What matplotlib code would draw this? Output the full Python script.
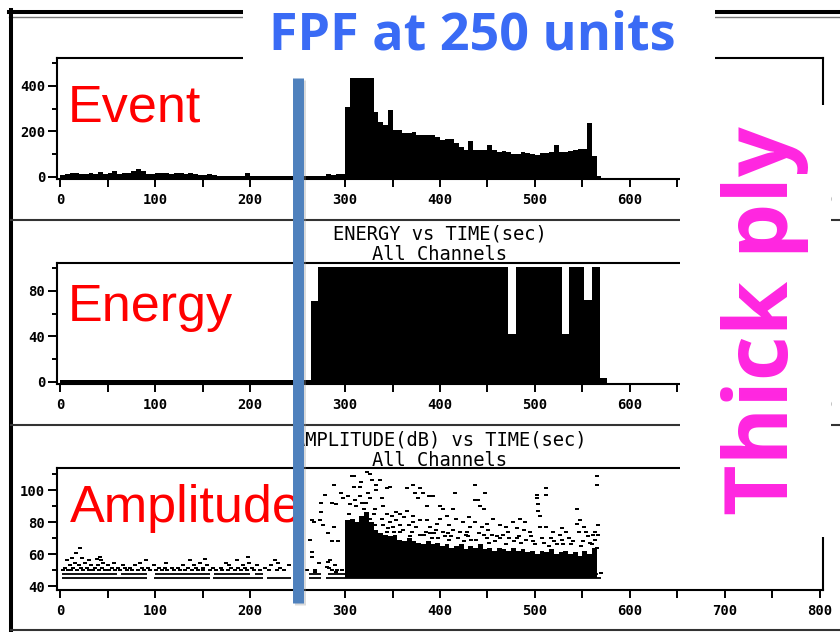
import matplotlib.pyplot as plt
from matplotlib.lines import Line2D
from matplotlib.patches import Rectangle
from matplotlib.ticker import MultipleLocator
import numpy as np

plt.rcParams['font.family'] = 'DejaVu Sans Mono'
plt.rcParams['font.weight'] = 'bold'

W, H = 840, 632

# ---- values ----
fpf_time = 250

# event counts, 5 s bins starting at 0 s
event_bin = 5
event_counts = [8, 15, 18, 18, 12, 15, 16, 12, 22, 15,
                17, 24, 15, 16, 18, 28, 35, 25, 14, 12,
                16, 18, 16, 12, 16, 17, 12, 16, 15, 8,
                8, 15, 8, 6, 6, 6, 6, 6, 6, 16,
                6, 5, 5, 5, 5, 5, 5, 5, 5, 5,
                5, 5, 5, 5, 5, 5, 14, 8, 12, 12,
                309, 560, 560, 560, 560, 560, 287, 243, 229, 295,
                207, 207, 192, 192, 198, 185, 185, 183, 183, 177,
                163, 168, 167, 150, 132, 119, 158, 119, 119, 119,
                141, 119, 110, 115, 108, 101, 103, 110, 106, 100,
                97, 105, 105, 108, 141, 110, 110, 112, 119, 123,
                123, 237, 92, 4]

# energy, 8 s bins starting at 0 s (top of scale is ~101)
energy_bin = 8
energy_values = [1.5, 1.5, 1.5, 1.5, 1.5, 1.5, 1.5, 1.5, 1.5, 1.5, 1.5,
                 1.5, 1.5, 1.5, 1.5, 1.5, 1.5, 1.5, 1.5, 1.5, 1.5, 1.5,
                 1.5, 1.5, 1.5, 1.5, 1.5, 1.5, 1.5, 1.5, 1.5, 1.5, 1.5,
                 71,
                 101, 101, 101, 101, 101, 101, 101, 101, 101, 101, 101, 101,
                 101, 101, 101, 101, 101, 101, 101, 101, 101, 101, 101, 101, 101,
                 42, 101, 101, 101, 101, 101, 101, 42, 101, 101, 72, 101, 3]

# amplitude: solid band of hits during the burst (5 s bins from 300 s)
band_start = 300
band_bin = 5
band_floor = 45
band_top = [81, 82, 80, 84, 86, 80, 75, 73, 72, 71,
            72, 69, 68, 70, 68, 67, 66, 68, 66, 67,
            65, 66, 64, 65, 66, 63, 65, 64, 66, 63,
            64, 62, 64, 63, 62, 64, 62, 63, 61, 62,
            60, 62, 61, 63, 60, 61, 62, 60, 61, 59,
            62, 60, 64]

# threshold-level hits drawn as near-continuous lines (dB, spans in s)
thr_db = [45, 47.5]
thr_spans = [[(2, 92), (99, 158), (161, 214), (218, 243), (262, 275), (280, 570)],
             [(2, 60), (64, 92), (100, 158), (162, 200), (205, 214), (262, 275),
              (282, 300), (303, 566)]]

# low level hits before the burst, grouped in rows of equal dB
pre_rows_db = [50, 51.5, 53, 54.5, 56]
pre_rows_t = [
    [3, 8, 12, 18, 24, 30, 35, 41, 47, 52, 58, 63, 70, 76, 82, 88, 95, 101, 107,
     113, 120, 126, 132, 139, 145, 151, 158, 164, 171, 177, 184, 190, 197, 204,
     211, 220, 228, 236, 268, 286, 292, 297],
    [5, 14, 22, 28, 37, 44, 55, 61, 68, 74, 86, 93, 104, 110, 118, 124, 135, 143,
     150, 161, 169, 180, 187, 195, 202, 216, 232, 250, 283],
    [10, 20, 33, 40, 50, 66, 79, 99, 129, 141, 155, 178, 193, 207, 222, 241, 289],
    [16, 26, 45, 57, 84, 112, 147, 175, 199, 229, 273],
    [7, 31, 43, 91, 137, 186, 226, 284],
]
pre_extra = [(13, 57.5), (23, 57.5), (39, 57), (42, 58), (153, 57), (198, 58),
             (265, 58), (17, 60.5), (21, 64)]

# scattered hits around and above the burst band
burst_hits = [
    (265, 81), (275, 92), (267, 80), (263, 69), (265, 61), (282, 55), (281, 52),
    (289, 53), (291, 49), (260, 50), (268, 49), (275, 86), (274, 81), (277, 78),
    (288, 77), (282, 73), (286, 68), (293, 68), (279, 97), (288, 103), (296, 98),
    (298, 95), (291, 91), (286, 92), (305, 91),
    (307, 109), (309, 109), (326, 110), (328, 106), (317, 105), (337, 106),
    (333, 103), (344, 101), (347, 102), (309, 102), (316, 102), (365, 101),
    (372, 103), (374, 98), (379, 101), (377, 95), (382, 98), (388, 96), (393, 96),
    (416, 98), (437, 103), (447, 98), (437, 94), (440, 94), (442, 90), (446, 88),
    (414, 88), (400, 90), (403, 88), (386, 90), (365, 87), (354, 86), (358, 85),
    (349, 84), (340, 90), (339, 95), (326, 95), (324, 98),
    (326, 82), (339, 82), (347, 80), (354, 81), (358, 78), (367, 78), (372, 84),
    (379, 81), (386, 81), (389, 77), (400, 82), (407, 84), (417, 82), (424, 80),
    (431, 83), (437, 80), (444, 77), (449, 79), (456, 82), (463, 78), (470, 77),
    (477, 80), (484, 82), (489, 80),
    (502, 97), (502, 95), (503, 91), (503, 87), (512, 101), (512, 97), (505, 84),
    (505, 77), (495, 74), (488, 75), (481, 76), (512, 77), (519, 74), (526, 72),
    (533, 74), (544, 88), (547, 81), (544, 79), (546, 74), (554, 74), (561, 72),
    (565, 109), (565, 103),
    (498, 68), (481, 70), (463, 70), (446, 72), (428, 74), (421, 74), (414, 75),
    (403, 74), (396, 75), (389, 73), (379, 72), (368, 71), (358, 74), (344, 74),
    (337, 72), (330, 72), (323, 111), (337, 106), (333, 100),
    (392, 70), (410, 69), (425, 68), (438, 69), (452, 67), (470, 66), (485, 67),
    (500, 66), (515, 65), (530, 66), (548, 65), (558, 67), (563, 69), (540, 68),
    (520, 68), (460, 71), (430, 71), (405, 71), (385, 74), (350, 77), (340, 78),
    (320, 88), (312, 90), (318, 92), (330, 85), (304, 85), (565, 64), (569, 48),
    (332, 78), (345, 76), (352, 74), (361, 75), (370, 74), (375, 77), (383, 72),
    (394, 73), (398, 70), (408, 73), (412, 71), (419, 70), (427, 72), (433, 69),
    (441, 73), (449, 70), (455, 72), (458, 68), (466, 72), (473, 70), (478, 68),
    (483, 71), (491, 69), (496, 71), (507, 70), (510, 67), (517, 70), (523, 66),
    (528, 69), (536, 70), (538, 66), (551, 68), (556, 71), (560, 66), (566, 72),
    (563, 74), (566, 78), (552, 77), (528, 76), (472, 74), (451, 75), (432, 77),
    (409, 78), (397, 79), (372, 80), (362, 83), (344, 85), (332, 88), (322, 92),
    (316, 96), (311, 94), (303, 96), (306, 80), (304, 75),
]


def fx(px):
    return px / W


def fy(py):
    return 1 - py / H


fig = plt.figure(figsize=(W / 100, H / 100), dpi=100)
fig.patch.set_facecolor('white')

# panel rectangles in pixels (top, bottom); all share x span 57..823
panels = [(58, 179), (263, 384), (468, 590)]
ylims = [(-9, 523), (-2, 104.6), (37.5, 113.75)]
ysteps = [(200, 100), (40, 20), (20, 10)]

axes = []
for (top, bot), yl, (maj, mnr) in zip(panels, ylims, ysteps):
    ax = fig.add_axes([fx(57), fy(bot), fx(823) - fx(57), (bot - top) / H])
    ax.set_xlim(-3.2, 803.2)
    ax.set_ylim(*yl)
    ax.xaxis.set_major_locator(MultipleLocator(100))
    ax.xaxis.set_minor_locator(MultipleLocator(50))
    ax.yaxis.set_major_locator(MultipleLocator(maj))
    ax.yaxis.set_minor_locator(MultipleLocator(mnr))
    ax.tick_params(which='both', direction='out', width=1.4, labelsize=10)
    ax.tick_params(axis='x', which='both', length=6, pad=4)
    ax.tick_params(axis='y', which='major', length=6.5, pad=2)
    ax.tick_params(axis='y', which='minor', length=3.5)
    for sp in ax.spines.values():
        sp.set_linewidth(1.5)
    axes.append(ax)

ax1, ax2, ax3 = axes

# the "700" labels of the upper two windows sit under the callout box
for ax in (ax1, ax2):
    ax.set_xticks([0, 100, 200, 300, 400, 500, 600, 700, 800],
                  ['0', '100', '200', '300', '400', '500', '600', '', '800'])

# events
ev_edges = np.arange(len(event_counts) + 1) * event_bin
ax1.stairs(event_counts, ev_edges, baseline=ylims[0][0], fill=True,
           color='black', lw=0)

# energy
en_edges = np.arange(len(energy_values) + 1) * energy_bin
ax2.stairs(energy_values, en_edges, baseline=ylims[1][0], fill=True,
           color='black', lw=0)

# amplitude
band_edges = band_start + np.arange(len(band_top) + 1) * band_bin
ax3.stairs(band_top, band_edges, baseline=band_floor, fill=True,
           color='black', lw=0)
for db, spans in zip(thr_db, thr_spans):
    for t0, t1 in spans:
        ax3.hlines(db, t0, t1, color='black', lw=1.3)

pre_t, pre_db = [], []
for db, ts in zip(pre_rows_db, pre_rows_t):
    pre_t += ts
    pre_db += [db] * len(ts)
pre_t += [p[0] for p in pre_extra]
pre_db += [p[1] for p in pre_extra]
dot = [(-1.5, -1), (1.5, -1), (1.5, 1), (-1.5, 1)]
ax3.scatter(pre_t, pre_db, marker=dot, s=6, c='black', lw=0)
ax3.scatter([p[0] for p in burst_hits], [p[1] for p in burst_hits],
            marker=dot, s=6, c='black', lw=0)

# window titles
title_kw = dict(ha='center', va='baseline', fontsize=13.5, weight='normal')
fig.text(fx(440), fy(240), 'ENERGY vs TIME(sec)', **title_kw)
fig.text(fx(440), fy(260), 'All Channels', **title_kw)
fig.text(fx(440), fy(446), 'AMPLITUDE(dB) vs TIME(sec)', **title_kw)
fig.text(fx(440), fy(466), 'All Channels', **title_kw)

# window frame lines
frame = [([9, 840], [12, 12], 'black', 2.9),
         ([9, 840], [16.5, 16.5], '#777777', 1.0),
         ([11, 11], [10, 632], 'black', 2.9),
         ([11, 840], [220, 220], '#333333', 1.5),
         ([11, 840], [425, 425], '#333333', 1.5),
         ([11, 840], [630, 630], '#333333', 1.5)]
for xs, ys, col, lw in frame:
    fig.add_artist(Line2D([fx(x) for x in xs], [fy(y) for y in ys],
                          color=col, lw=lw, zorder=2))

# red panel labels
lab_kw = dict(color='red', fontsize=37.5, family='Liberation Sans',
              weight='normal', va='baseline', ha='left', zorder=3)
fig.text(fx(68), fy(122), 'Event', **lab_kw)
fig.text(fx(68), fy(321), 'Energy', **lab_kw)
fig.text(fx(70), fy(522), 'Amplitude', **lab_kw)

# FPF marker line at fpf_time
xpix = ax1.transData.transform((fpf_time, 0))[0]
xf = fig.transFigure.inverted().transform((xpix, 0))[0]
fig.add_artist(Line2D([xf + 2.5 / W, xf + 2.5 / W], [fy(80), fy(605)],
                      color='#999999', alpha=0.35, lw=7.9,
                      solid_capstyle='butt', zorder=4))
fig.add_artist(Line2D([xf, xf], [fy(78), fy(603)], color='#4F81BD', lw=7.9,
                      solid_capstyle='butt', zorder=4))

# white callout boxes
fig.add_artist(Rectangle((fx(243), fy(78)), fx(715) - fx(243), 78 / H,
                         transform=fig.transFigure, facecolor='white',
                         edgecolor='none', zorder=5))
fig.add_artist(Rectangle((fx(680), fy(537)), fx(831) - fx(680), (537 - 105) / H,
                         transform=fig.transFigure, facecolor='white',
                         edgecolor='none', zorder=5))

fig.text(fx(472), fy(50), f'FPF at {fpf_time} units', color='#3A6BF5',
         fontsize=37.5, family='Open Sans', weight='bold', ha='center',
         va='baseline', zorder=6)
fig.text(fx(788), fy(515), 'Thick ply', color='#FF26E0', fontsize=63,
         family='Open Sans', weight='bold', rotation=90,
         rotation_mode='anchor', ha='left', va='baseline', zorder=6)

fig.savefig('out.png', dpi=100)
